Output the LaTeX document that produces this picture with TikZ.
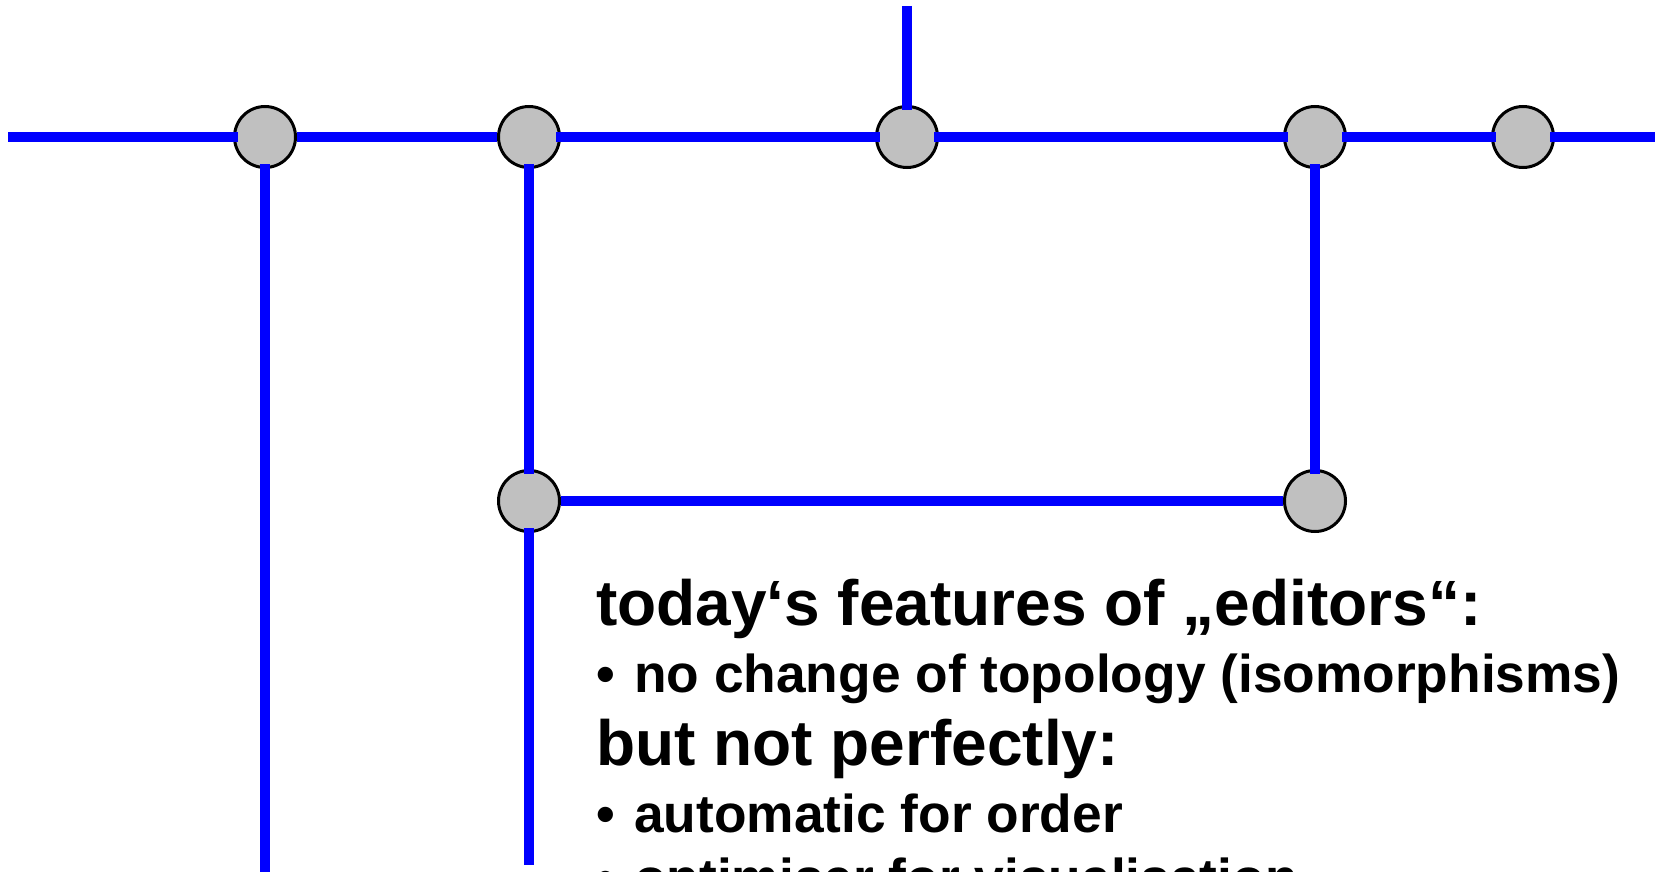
\documentclass[tikz,border=0pt]{standalone}
\usepackage{fontspec}
\setmainfont{Liberation Sans}
\definecolor{wireblue}{RGB}{0,0,255}
\definecolor{nodegray}{RGB}{192,192,192}
\tikzset{
  junction/.style={circle, draw=black, line width=3pt, fill=nodegray, minimum size=61pt, inner sep=0pt},
  wire/.style={draw=wireblue, line width=10pt},
  sinkboth/.style={shorten <=-5pt, shorten >=-5pt},
  sinkend/.style={shorten >=-5pt},
  sinkstart/.style={shorten <=-5pt},
  heading/.style={anchor=base west, inner sep=0pt, font=\fontsize{64}{70}\selectfont\bfseries},
  bulletline/.style={anchor=base west, inner sep=0pt, font=\fontsize{53.3}{60}\selectfont\bfseries},
}
\begin{document}
\begin{tikzpicture}[x=1pt,y=-1pt]
  \useasboundingbox (0,0) rectangle (1662,872);
  \clip (0,0) rectangle (1662,872);
  % junctions
  \node[junction] (n1) at (265,137) {};
  \node[junction] (n2) at (529,137) {};
  \node[junction] (n3) at (907,137) {};
  \node[junction] (n4) at (1315,137) {};
  \node[junction] (n5) at (1523,137) {};
  \node[junction] (n6) at (529,501) {};
  \node[junction] (n7) at (1315,501) {};
  % free ends
  \coordinate (left) at (8,137);
  \coordinate (right) at (1655,137);
  \coordinate (top) at (907,6);
  \coordinate (bot1) at (265,880);
  \coordinate (bot2) at (529,865);
  % wires
  \draw[wire, sinkend] (left) -- (n1);
  \draw[wire] (n1) -- (n2);
  \draw[wire, sinkboth] (n2) -- (n3);
  \draw[wire, sinkboth] (n3) -- (n4);
  \draw[wire, sinkboth] (n4) -- (n5);
  \draw[wire, sinkstart] (n5) -- (right);
  \draw[wire, sinkend] (top) -- (n3);
  \draw[wire, sinkstart] (n1) -- (bot1);
  \draw[wire, sinkboth] (n2) -- (n6);
  \draw[wire, sinkstart] (n6) -- (bot2);
  \draw[wire] (n6) -- (n7);
  \draw[wire, sinkboth] (n4) -- (n7);
  % text
  \node[heading] (t1) at (596,625) {today‘s features of „editors“:};
  \node[bulletline] (t2) at (596,692) {\makebox[38pt][l]{•}no change of topology (isomorphisms)};
  \node[heading] (t3) at (596,765) {but not perfectly:};
  \node[bulletline] (t4) at (596,832) {\makebox[38pt][l]{•}automatic for order};
  \node[bulletline] (t5) at (596,896) {\makebox[38pt][l]{•}optimiser for visualisation};
\end{tikzpicture}
\end{document}
